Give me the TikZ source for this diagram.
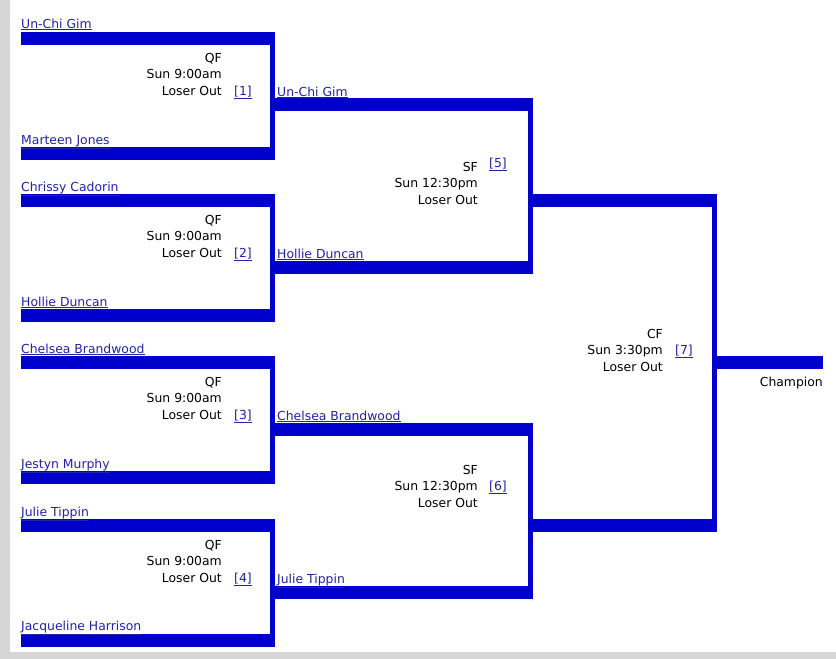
\documentclass[tikz,border=0pt]{standalone}
\usepackage{fontspec}
\setmainfont{DejaVu Sans}
\begin{document}
\begin{tikzpicture}[x=1pt,y=-1pt,
  bar/.style={fill=bblue},
  lnk/.style={text=lblue,font=\fontsize{12.4}{14}\selectfont,inner sep=0pt},
  txt/.style={font=\fontsize{12.4}{14}\selectfont,inner sep=0pt,anchor=base east,align=right}]
\definecolor{bblue}{RGB}{0,0,204}
\definecolor{lblue}{RGB}{34,34,170}
\fill[black!16] (0,0) rectangle (836,659);
\fill[white] (10,0) rectangle (836,652);
\useasboundingbox (0,0) rectangle (836,659);
% QF bars
\foreach \t/\b in {32/147,194/309,356/471,519/634}{
  \fill[bar] (21,\t) rectangle (275,\t+13);
  \fill[bar] (21,\b) rectangle (275,\b+13);
  \fill[bar] (270,\t) rectangle (275,\b+13);
}
% SF bars
\foreach \t/\b in {98/261,423/586}{
  \fill[bar] (275,\t) rectangle (533,\t+13);
  \fill[bar] (275,\b) rectangle (533,\b+13);
  \fill[bar] (528,\t) rectangle (533,\b+13);
}
% CF
\fill[bar] (533,194) rectangle (717,207);
\fill[bar] (533,519) rectangle (717,532);
\fill[bar] (712,194) rectangle (717,532);
\fill[bar] (717,356) rectangle (823,369);
% names
\foreach \n/\x/\y/\s in {a/21/28/Un-Chi Gim,b/21/144/Marteen Jones,c/21/191/Chrissy Cadorin,d/21/306/Hollie Duncan,
  e/21/353/Chelsea Brandwood,f/21/468/Jestyn Murphy,g/21/516/Julie Tippin,h/21/630/Jacqueline Harrison,
  i/277/96/Un-Chi Gim,j/277/258/Hollie Duncan,k/277/420/Chelsea Brandwood,l/277/583/Julie Tippin}
  \node[lnk,anchor=base west] (\n) at (\x,\y) {\underline{\s}};
% QF texts
\foreach \m/\y in {1/62,2/224,3/386,4/549}{
  \node[txt] (q\m) at (222,\y) {QF};
  \node[txt] (qs\m) at (222,\y+16.5) {Sun 9:00am};
  \node[txt] (ql\m) at (222,\y+33) {Loser Out};
  \node[lnk,anchor=base west] (qn\m) at (234,\y+33) {\underline{[\m]}};
}
% SF texts
\foreach \m/\y/\o in {5/171/-4,6/474/16.5}{
  \node[txt] (s\m) at (478,\y) {SF};
  \node[txt] (ss\m) at (478,\y+16.5) {Sun 12:30pm};
  \node[txt] (sl\m) at (478,\y+33) {Loser Out};
  \node[lnk,anchor=base west] (sn\m) at (489,\y+\o) {\underline{[\m]}};
}
\node[txt] (c) at (663,338) {CF};
\node[txt] (cs) at (663,354.5) {Sun 3:30pm};
\node[txt] (cl) at (663,371) {Loser Out};
\node[lnk,anchor=base west] (cn) at (675,354.5) {\underline{[7]}};
\node[txt] (ch) at (823,386) {Champion};
\end{tikzpicture}
\end{document}
